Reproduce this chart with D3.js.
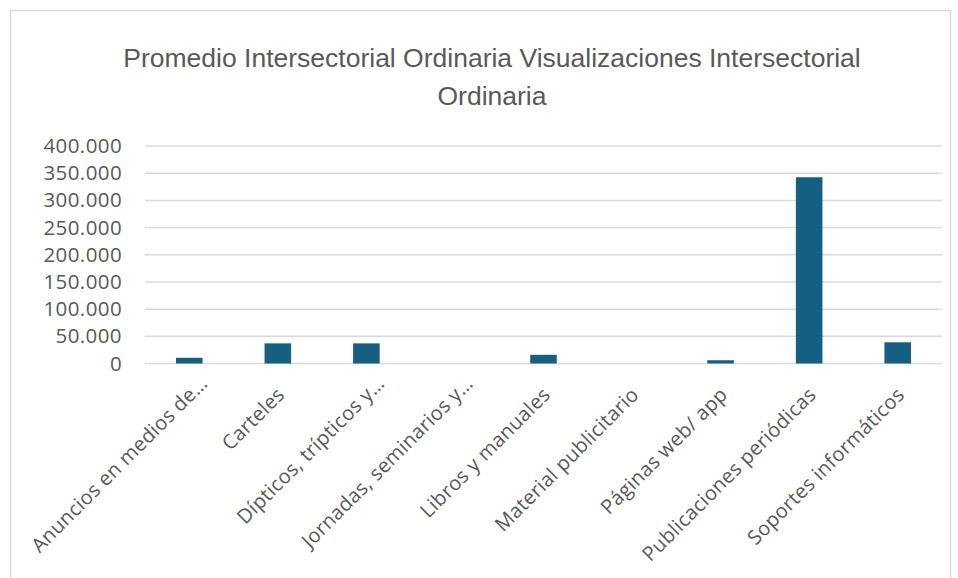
<!DOCTYPE html>
<html>
<head>
<meta charset="utf-8">
<script src="https://cdn.jsdelivr.net/npm/d3@7"></script>
<style>
  html, body { margin: 0; padding: 0; background: #fff; }
  svg { display: block; }
</style>
</head>
<body>
<svg id="chart" width="958" height="578"></svg>
<script>
const titleLines = ["Promedio Intersectorial Ordinaria Visualizaciones Intersectorial", "Ordinaria"];
const categories = [
  "Anuncios en medios de…",
  "Carteles",
  "Dípticos, trípticos y…",
  "Jornadas, seminarios y…",
  "Libros y manuales",
  "Material publicitario",
  "Páginas web/ app",
  "Publicaciones periódicas",
  "Soportes informáticos"
];
const values = [10500, 37000, 37000, 0, 16000, 0, 6000, 342500, 39000];
const yTicks = [0, 50000, 100000, 150000, 200000, 250000, 300000, 350000, 400000];

const W = 958, H = 578;
const svg = d3.select("#chart");
const font = "'Open Sans', 'Liberation Sans', Arial, sans-serif";
const textColor = "#595959";
const gridColor = "#d9d9d9";
const barColor = "#156082";

// chart border
svg.append("rect")
  .attr("x", 10.5).attr("y", 10.5)
  .attr("width", 940).attr("height", 600)
  .attr("fill", "none").attr("stroke", gridColor).attr("stroke-width", 1.5);

const margin = { left: 145, right: 16, top: 146, bottom: 214.5 };
const x = d3.scaleBand()
  .domain(categories)
  .range([margin.left, W - margin.right])
  .paddingInner(0.7)
  .paddingOuter(0.35);
const y = d3.scaleLinear()
  .domain([0, 400000])
  .range([H - margin.bottom, margin.top]);

// title
const title = svg.append("text")
  .attr("text-anchor", "middle")
  .attr("font-family", "'Liberation Sans', Arial, sans-serif")
  .attr("font-size", 26.5)
  .attr("fill", textColor);
title.selectAll("tspan").data(titleLines).join("tspan")
  .attr("x", 492)
  .attr("y", (d, i) => 67 + i * 38)
  .text(d => d);

// gridlines
svg.append("g").selectAll("line").data(yTicks).join("line")
  .attr("x1", margin.left).attr("x2", W - margin.right)
  .attr("y1", d => y(d)).attr("y2", d => y(d))
  .attr("stroke", gridColor).attr("stroke-width", 1.5);

// y axis
const loc = d3.formatLocale({ decimal: ",", thousands: ".", grouping: [3], currency: ["", "€"] });
const fmt = loc.format(",.0f");
const yAxis = svg.append("g")
  .attr("transform", `translate(${margin.left},0)`)
  .call(d3.axisLeft(y).tickValues(yTicks).tickFormat(fmt).tickSize(0).tickPadding(23));
yAxis.select(".domain").remove();
yAxis.selectAll("text")
  .attr("font-family", font)
  .attr("font-size", 20.5)
  .attr("letter-spacing", 0.4)
  .attr("fill", textColor);

// bars
svg.append("g").selectAll("rect").data(values).join("rect")
  .attr("x", (d, i) => x(categories[i]))
  .attr("width", x.bandwidth())
  .attr("y", d => y(d))
  .attr("height", d => y(0) - y(d))
  .attr("fill", barColor);

// x labels
svg.append("g").selectAll("text").data(categories).join("text")
  .attr("transform", d => `translate(${x(d) + x.bandwidth() / 2 + 8},396) rotate(-45)`)
  .attr("dx", d => d.endsWith("…") ? 16 : 0)
  .attr("text-anchor", "end")
  .attr("font-family", font)
  .attr("font-size", 20)
  .attr("letter-spacing", 0.3)
  .attr("fill", textColor)
  .text(d => d);
</script>
</body>
</html>
